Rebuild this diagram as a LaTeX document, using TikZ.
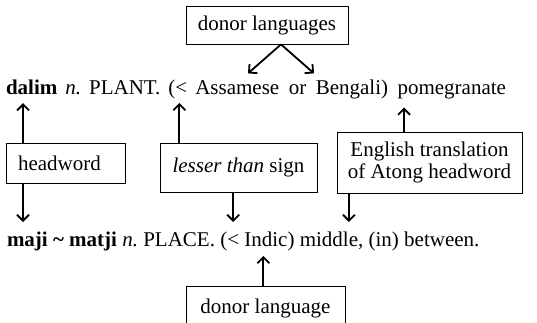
\documentclass[tikz,border=0pt]{standalone}
\usepackage{fontspec}
\setmainfont{Liberation Serif}
\usetikzlibrary{positioning}
\usetikzlibrary{arrows.meta,calc}
\newcommand{\wsp}{\hspace{8pt}}

\begin{document}
\begin{tikzpicture}[
x=1pt, y=-1pt,
font=\fontsize{21}{23}\selectfont,
word/.style = {inner sep=0pt, outer sep=0pt, anchor=base west},
box/.style = {
  draw,
  line width=0.8pt,
  align=center,
  inner sep=0pt},
line/.style = {draw=black, line width=1.8pt, -{Straight Barb[length=6pt,width=12pt]}},
]
\clip (0,0) rectangle (537,323);

% first entry
\node[word] (dalim) at (6,95) {\textbf{dalim}};
\node[word] (pos1) at (dalim.base east) {\wsp\textit{n.}\wsp PLANT.\wsp(};
\node[word] (lt1) at (pos1.base east) {<};
\node[word] (assam) at (lt1.base east) {\wsp Assamese};
\node[word] (or) at (assam.base east) {\hspace{9.5pt}or};
\node[word] (beng) at (or.base east) {\hspace{9.5pt}Bengali)};
\node[word] (gloss1) at (beng.base east) {\hspace{9.5pt}pomegranate};

% second entry
\node[word] (maji) at (7,246) {\textbf{maji \textasciitilde\ matji}};
\node[word] (pos2) at (maji.base east) {\ \textit{n.}\ PLACE.\ (};
\node[word] (lt2) at (pos2.base east) {<};
\node[word] (indic) at (lt2.base east) {\ Indic};
\node[word] (par2) at (indic.base east) {)};
\node[word] (mid) at (par2.base east) {\ middle,};
\node[word] (gloss2) at (mid.base east) {\ (in) between.};

% labels
\node[box, minimum width=162pt, minimum height=38pt] (donors) at (267,25) {donor languages};
\node[box, minimum height=40pt, text width=95pt, align=left, inner xsep=12pt] (head) at (65.5,163) {headword};
\node[box, minimum width=157pt, minimum height=49pt] (lesser) at (238.5,167.5) {\textit{lesser than} sign};
\node[box, minimum width=185pt, minimum height=61pt] (transl) at (429.5,162.5) {English translation\\[-1pt]of Atong headword};
\node[box, minimum width=159pt, minimum height=44pt, anchor=north] (donor) at (265.5,286) {donor language};

% arrow ends
\coordinate (top) at ($(donors.south)+(14,0)$);
\coordinate (t1) at ($(dalim.south west)+(17,8)$);
\coordinate (t2) at ($(lt1.south)+(-2,8)$);
\coordinate (t3) at ($(gloss1.south west)+(16,8)$);
\coordinate (t4) at ($(top)+(-33,29)$);
\coordinate (t5) at ($(top)+(33,29)$);
\coordinate (b1) at ($(maji.west |- 0,222)+(16,0)$);
\coordinate (b2) at (lt2.center |- 0,222);
\coordinate (b3) at ($(mid.center |- 0,222)+(20,0)$);
\coordinate (b4) at (indic.center |- 0,256);

\begin{scope}[every path/.style=line]
\path (top) -- (t4);
\path (top) -- (t5);
\path (head.north -| t1) -- (t1);
\path (head.south -| b1) -- (b1);
\path (lesser.north -| t2) -- (t2);
\path (lesser.south -| b2) -- (b2);
\path (transl.north -| t3) -- (t3);
\path (transl.south -| b3) -- (b3);
\path (donor.north -| b4) -- (b4);
\end{scope}

\end{tikzpicture}
\end{document}
